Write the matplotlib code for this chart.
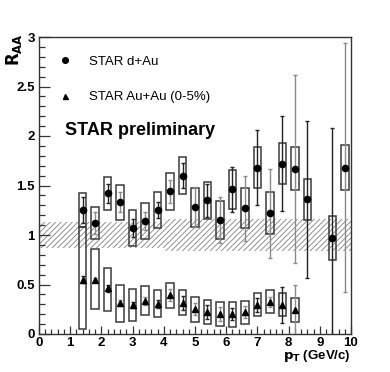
import matplotlib
matplotlib.use("Agg")
import matplotlib.pyplot as plt
from matplotlib.patches import Rectangle
from matplotlib.ticker import MultipleLocator
import numpy as np

# ---------------- data ----------------
dau_pt = [1.4, 1.8, 2.2, 2.6, 3.0, 3.4, 3.8, 4.2, 4.6, 5.0, 5.4, 5.8, 6.2, 6.6,
          7.0, 7.4, 7.8, 8.2, 8.6, 9.4, 9.8]
dau_raa = [1.25, 1.12, 1.42, 1.33, 1.07, 1.14, 1.25, 1.44, 1.60, 1.28, 1.35, 1.15,
           1.46, 1.27, 1.68, 1.22, 1.72, 1.67, 1.36, 0.97, 1.68]
dau_stat = [0.13, 0.11, 0.10, 0.10, 0.09, 0.09, 0.08, 0.12, 0.13, 0.20, 0.17, 0.23,
            0.23, 0.33, 0.38, 0.45, 0.48, 0.95, 0.79, 1.11, 1.26]
dau_sys = [0.17, 0.165, 0.17, 0.175, 0.18, 0.18, 0.18, 0.185, 0.19, 0.195, 0.19,
           0.195, 0.195, 0.20, 0.205, 0.21, 0.205, 0.215, 0.21, 0.22, 0.225]

auau_pt = [1.4, 1.8, 2.2, 2.6, 3.0, 3.4, 3.8, 4.2, 4.6, 5.0, 5.4, 5.8, 6.2, 6.6,
           7.0, 7.4, 7.8, 8.2]
auau_raa = [0.55, 0.55, 0.46, 0.31, 0.29, 0.33, 0.30, 0.39, 0.31, 0.25, 0.22, 0.20,
            0.20, 0.22, 0.29, 0.32, 0.29, 0.24]
auau_stat = [0.035, 0.02, 0.035, 0.03, 0.03, 0.04, 0.04, 0.06, 0.07, 0.06, 0.07,
             0.07, 0.06, 0.06, 0.07, 0.05, 0.18, 0.26]
auau_sys_lo = [0.05, 0.25, 0.23, 0.12, 0.13, 0.19, 0.17, 0.26, 0.19, 0.12, 0.10,
               0.08, 0.07, 0.10, 0.18, 0.21, 0.18, 0.12]
auau_sys_hi = [1.08, 0.86, 0.67, 0.49, 0.45, 0.48, 0.44, 0.52, 0.44, 0.37, 0.34,
               0.32, 0.32, 0.33, 0.41, 0.44, 0.41, 0.36]

# normalisation uncertainty band (pt ranges and limits)
band_pt = [0.0, 4.0, 10.0]
band_lo = [0.87, 0.84]
band_hi = [1.13, 1.16]

legend_labels = ["STAR d+Au", "STAR Au+Au (0-5%)"]
title_text = "STAR preliminary"

# ---------------- figure ----------------
plt.rcParams['font.family'] = ['Liberation Sans', 'DejaVu Sans']
plt.rcParams['hatch.linewidth'] = 0.6
plt.rcParams['hatch.color'] = '#808080'

fig = plt.figure(figsize=(3.9, 3.72), dpi=100)
ax = fig.add_axes([39/390, 38/372, 312/390, 297/372])
ax.set_xlim(0, 10)
ax.set_ylim(0, 3)

BOX_HALF = 0.12
GREY = '#8a8a8a'
DARK = '#222222'
BOXC = '#3a3a3a'

def colour_for(pt):
    # two interleaved binnings: alternate dark / grey error bars
    k = int(round((pt - 1.4) / 0.4))
    return DARK if k % 2 == 0 else GREY

# band
for i in range(len(band_lo)):
    ax.add_patch(Rectangle((band_pt[i], band_lo[i]), band_pt[i+1] - band_pt[i],
                           band_hi[i] - band_lo[i], fill=False, hatch='//////',
                           edgecolor='#808080', linewidth=0, zorder=1))

# d+Au sys boxes and errorbars
for x, y, s, e in zip(dau_pt, dau_raa, dau_sys, dau_stat):
    c = colour_for(x)
    ax.add_patch(Rectangle((x - BOX_HALF, y - s), 2*BOX_HALF, 2*s, fill=False,
                           edgecolor=BOXC, linewidth=1.1, zorder=2))
    ax.errorbar([x], [y], yerr=[e], fmt='none', ecolor=c, elinewidth=1.0,
                capsize=1.5, capthick=1.0, zorder=3)
h1, = ax.plot(dau_pt, dau_raa, 'o', color='black', markersize=4.5, zorder=4,
              linestyle='none')

# Au+Au sys boxes and errorbars
for x, y, lo, hi, e in zip(auau_pt, auau_raa, auau_sys_lo, auau_sys_hi, auau_stat):
    c = colour_for(x)
    ax.add_patch(Rectangle((x - BOX_HALF, lo), 2*BOX_HALF, hi - lo, fill=False,
                           edgecolor=BOXC, linewidth=1.1, zorder=2))
    ax.errorbar([x], [y], yerr=[e], fmt='none', ecolor=c, elinewidth=1.0,
                capsize=1.5, capthick=1.0, zorder=3)
h2, = ax.plot(auau_pt, auau_raa, '^', color='black', markersize=4.0, zorder=4,
              linestyle='none')

# legend
leg = ax.legend([h1, h2], legend_labels, loc='upper left',
                bbox_to_anchor=(0.045, 0.955), frameon=False, fontsize=9.5,
                handlelength=1.0, handletextpad=1.3, labelspacing=1.75,
                markerscale=0.9, borderaxespad=0)

ax.text(0.083, 0.685, title_text, transform=ax.transAxes, fontsize=13,
        fontweight='bold', va='center', ha='left')

# axes styling
ax.xaxis.set_minor_locator(MultipleLocator(0.2))
ax.yaxis.set_minor_locator(MultipleLocator(0.1))
ax.set_xticks(range(0, 11))
ax.set_xticklabels([str(i) for i in range(0, 11)])
ax.set_yticks([0, 0.5, 1, 1.5, 2, 2.5, 3])
ax.set_yticklabels(['0', '0.5', '1', '1.5', '2', '2.5', '3'])
ax.tick_params(axis='both', which='both', direction='in', top=False, right=False,
               width=0.9, colors='#333333', labelcolor='black')
ax.tick_params(axis='x', which='major', length=6, pad=2, labelsize=9.5)
ax.tick_params(axis='x', which='minor', length=3.5)
ax.tick_params(axis='y', which='major', length=8, pad=3, labelsize=9.5)
ax.tick_params(axis='y', which='minor', length=4)
for lab in ax.get_xticklabels() + ax.get_yticklabels():
    lab.set_fontweight('bold')
for sp in ax.spines.values():
    sp.set_linewidth(1.0)
    sp.set_color('#333333')

fig.text(14/390, 1 - 50/372, r'$\mathbf{R_{AA}}$', rotation=90, fontsize=12,
         ha='center', va='center', fontweight='bold')
fig.text(351/390, 1 - 356/372, r'$\mathbf{p_{T}}$ (GeV/c)', fontsize=9.5,
         ha='right', va='center', fontweight='bold')

fig.savefig('out.png', dpi=100)
